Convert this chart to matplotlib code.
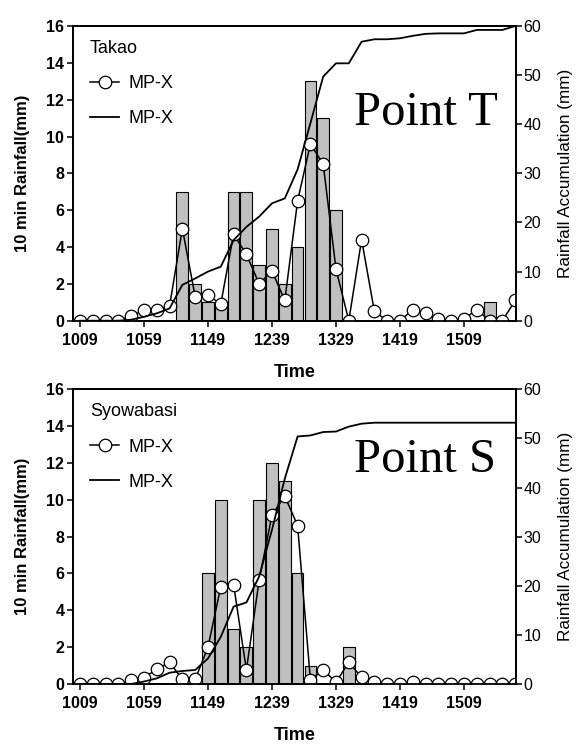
import matplotlib
matplotlib.use("Agg")
import matplotlib.pyplot as plt
import numpy as np

plt.rcParams['font.family'] = ['Liberation Sans', 'DejaVu Sans']

# ---------------- data ----------------
time_labels = ['1009', '1059', '1149', '1239', '1329', '1419', '1509']
n_steps = 35

# Point T (Takao)
takao_bar = [0, 0, 0, 0, 0, 0, 0, 0, 7, 2, 1, 1, 7, 7, 3, 5, 2, 4, 13, 11, 6,
             0, 0, 0, 0, 0, 0, 0, 0, 0, 0, 0, 1, 0, 0]
takao_mpx = [0, 0, 0, 0, 0.25, 0.58, 0.58, 0.8, 5.0, 1.3, 1.4, 0.9, 4.7, 3.6,
             2.0, 2.7, 1.1, 6.5, 9.6, 8.5, 2.8, 0, 4.4, 0.5, 0, 0, 0.6, 0.4,
             0.1, 0, 0.1, 0.6, 0, 0, 1.1]
takao_acc = [0, 0, 0, 0, 0.2, 0.8, 1.5, 2.5, 7.3, 8.6, 10.0, 11.0, 16.4, 19.1,
             21.2, 23.9, 24.9, 30.8, 40.2, 49.7, 52.4, 52.4, 56.8, 57.3, 57.3,
             57.5, 58.0, 58.4, 58.5, 58.5, 58.5, 59.2, 59.2, 59.2, 60.0]

# Point S (Syowabasi)
syowa_bar = [0, 0, 0, 0, 0, 0, 0, 0, 0, 0, 6, 10, 3, 2, 10, 12, 11, 6, 1, 0,
             0, 2, 0, 0, 0, 0, 0, 0, 0, 0, 0, 0, 0, 0, 0]
syowa_mpx = [0, 0, 0, 0, 0.2, 0.35, 0.8, 1.18, 0.25, 0.25, 2.0, 5.28, 5.4,
             0.76, 5.65, 9.18, 10.2, 8.6, 0.22, 0.76, 0.1, 1.18, 0.36, 0.12,
             0, 0, 0.1, 0, 0, 0, 0, 0, 0, 0, 0]
syowa_acc = [0, 0, 0, 0, 0, 0.5, 1.15, 2.3, 2.65, 2.85, 5.2, 9.6, 15.75, 16.6,
             21.9, 31.4, 41.8, 50.4, 50.6, 51.3, 51.4, 52.4, 53.0, 53.2, 53.2,
             53.2, 53.2, 53.2, 53.2, 53.2, 53.2, 53.2, 53.2, 53.2, 53.2]

panels = [
    ("Takao", "Point T", takao_bar, takao_mpx, takao_acc),
    ("Syowabasi", "Point S", syowa_bar, syowa_mpx, syowa_acc),
]

# ---------------- figure ----------------
W, H = 577, 745
fig = plt.figure(figsize=(W / 100, H / 100), dpi=100)
rects = [
    [73.3 / W, 1 - 320.7 / H, 442.7 / W, 294.7 / H],
    [73.3 / W, 1 - 684.0 / H, 442.7 / W, 294.7 / H],
]
point_text_y = [0.664, 0.720]

x = np.arange(n_steps)

for i, (station, pname, bars, mpx, acc) in enumerate(panels):
    ax = fig.add_axes(rects[i])
    ax2 = ax.twinx()

    ax.bar(x, bars, width=0.92, color='#c0c0c0', edgecolor='black',
           linewidth=0.8, zorder=1)
    l1, = ax.plot(x, mpx, color='black', lw=1.1, marker='o', ms=9,
                  mfc='white', mec='black', mew=0.9, zorder=3, label='MP-X')
    l2, = ax2.plot(x, acc, color='black', lw=1.3, label='MP-X')

    ax.set_xlim(-0.52, 34.06)
    ax.set_ylim(0, 16)
    ax2.set_ylim(0, 60)
    ax.set_yticks(np.arange(0, 17, 2))
    ax2.set_yticks(np.arange(0, 61, 10))
    ax.set_xticks(x[::5][:len(time_labels)])
    ax.set_xticklabels(time_labels)

    for a in (ax, ax2):
        for sp in a.spines.values():
            sp.set_linewidth(1.3)
    ax.tick_params(axis='x', direction='out', length=4, width=1.1, pad=5,
                   labelsize=11.5)
    ax.tick_params(axis='y', direction='out', length=4, width=1.1, pad=2.5,
                   labelsize=11.5)
    ax2.tick_params(axis='y', direction='out', length=4, width=1.1, pad=1.5,
                    labelsize=11.5)
    for lab in ax.get_xticklabels() + ax.get_yticklabels():
        lab.set_fontweight('bold')

    ax.set_xlabel('Time', fontsize=13, fontweight='bold')
    ax.xaxis.set_label_coords(0.5, -0.146)
    ax.set_ylabel('10 min Rainfall(mm)', fontsize=12, fontweight='bold')
    ax.yaxis.set_label_coords(-0.098, 0.5)
    ax2.set_ylabel('Rainfall Accumulation (mm)', fontsize=12.3)
    ax2.yaxis.set_label_coords(1.094, 0.5)

    ax2.text(0.634, point_text_y[i], pname, transform=ax.transAxes,
             fontsize=35, family='Liberation Serif', ha='left', va='baseline')

    ax2.legend([l1, l2], ['MP-X', 'MP-X'], title=station, loc='upper left',
               bbox_to_anchor=(0.038, 0.952), frameon=False, fontsize=13,
               title_fontsize=13, handlelength=1.6, handletextpad=0.5,
               labelspacing=1.0, borderpad=0, borderaxespad=0,
               alignment='left')

fig.savefig('out.png', dpi=100)
